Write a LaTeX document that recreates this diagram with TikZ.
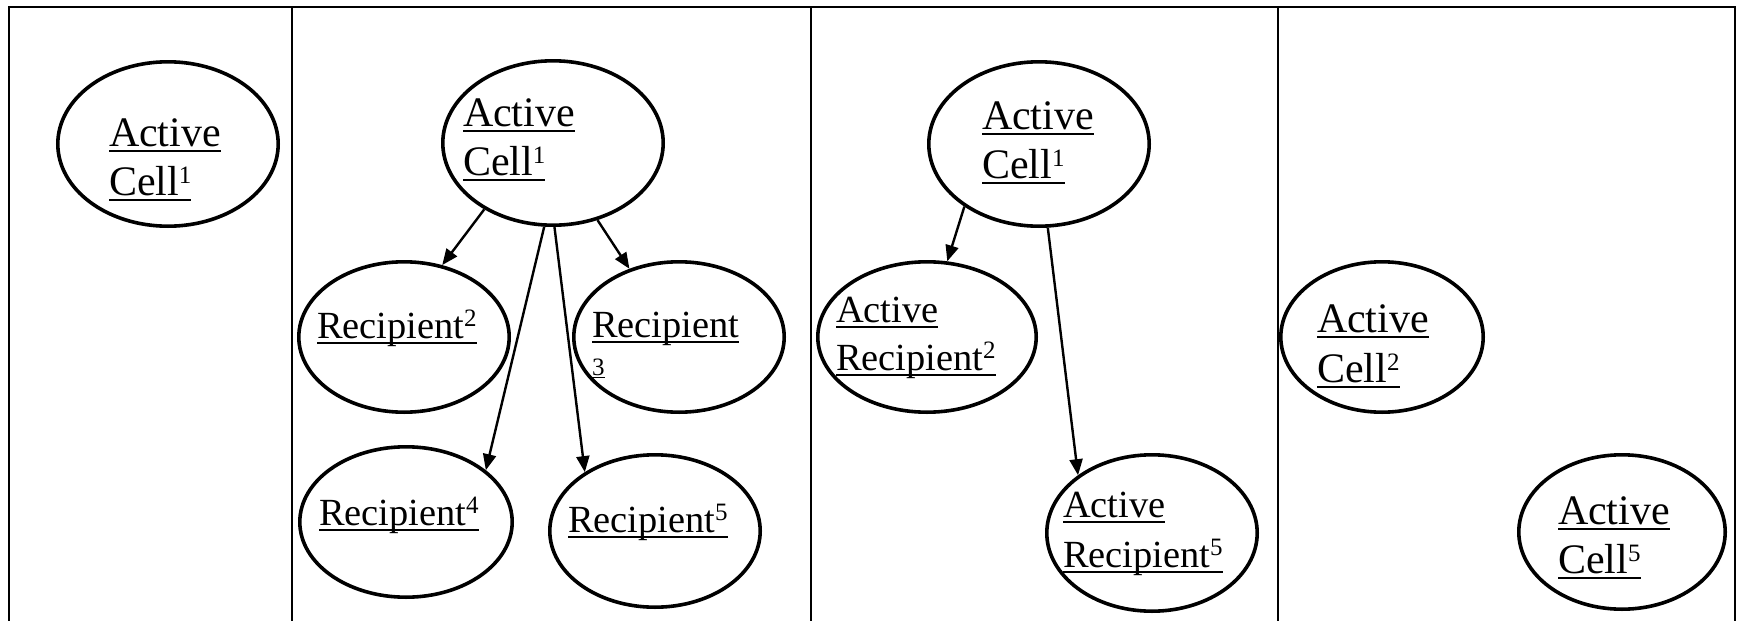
\documentclass[tikz,border=0pt]{standalone}
\usepackage{fontspec}
\setmainfont{Liberation Serif}
\usetikzlibrary{shapes.geometric,arrows.meta}

% underline drawn at a fixed depth below the baseline
\newcommand\ulinat[2]{\setbox0\hbox{#2}\rlap{\rule[#1]{\wd0}{0.75pt}}\box0}
\newcommand\ulin[1]{\ulinat{-2.9pt}{#1}}
% small raised index
\newcommand\sups[1]{\raisebox{5.8pt}{\fontsize{12.5}{13}\selectfont #1}}
\newcommand\bigf{\fontsize{21}{24}\selectfont}
\newcommand\smallf{\fontsize{19.2}{23}\selectfont}

\tikzset{
  frame/.style={line width=1pt},
  ell/.style 2 args={ellipse, draw, line width=1.8pt, inner sep=0pt,
    minimum width={(#1-1.8)*1pt}, minimum height={(#2-1.8)*1pt}},
  lbl/.style={anchor=base west, inner sep=0pt, outer sep=0pt, font=\bigf},
  rlbl/.style={lbl, font=\smallf},
  arr/.style={line width=1.2pt, -{Triangle[length=8pt,width=6.5pt]}}
}

\begin{document}
\begin{tikzpicture}[x=0.5pt,y=-0.5pt]
\useasboundingbox (0,0) rectangle (1741,621);

% table frame, open at the bottom
\draw[frame] (8.7,660) -- (8.7,6.7) -- (1735,6.7) -- (1735,660);
\draw[frame] (292,6.7) -- (292,660);
\draw[frame] (810.5,6.7) -- (810.5,660);
\draw[frame] (1277.5,6.7) -- (1277.5,660);

% column 1
\node[ell={112}{84}] (p1c) at (168,144) {};
\node[lbl] (p1ca) at (109,146) {\ulin{Active}};
\node[lbl] (p1cb) at (109,195) {\ulin{Cell\sups{1}}};

% column 2
\node[ell={112}{84}] (p2c) at (553,143) {};
\node[lbl] (p2ca) at (463,126) {\ulin{Active}};
\node[lbl] (p2cb) at (463,175) {\ulin{Cell\sups{1}}};

\node[ell={107}{77}] (p2r2) at (404,337) {};
\node[rlbl] (p2r2a) at (317,338) {\ulin{Recipient\sups{2}}};

\node[ell={107}{77}] (p2r3) at (679,337) {};
\node[rlbl] (p2r3a) at (592,337) {\ulin{Recipient}};
\node[lbl, font=\fontsize{12.5}{13}\selectfont] (p2r3b) at (592,375) {\ulinat{-1.5pt}{3}};

\node[ell={108}{77}] (p2r4) at (406,522) {};
\node[rlbl] (p2r4a) at (319,525) {\ulin{Recipient\sups{4}}};

\node[ell={107}{78}] (p2r5) at (655,531) {};
\node[rlbl] (p2r5a) at (568,532) {\ulin{Recipient\sups{5}}};

\draw[arr] (p2c.224) -- (p2r2.62);
\draw[arr] (p2c.300) -- (p2r3.126);
\draw[arr] (p2c.264) -- (p2r4.33);
\draw[arr] (p2c.271) -- (p2r5.140);

% column 3
\node[ell={112}{84}] (p3c) at (1039,144) {};
\node[lbl] (p3ca) at (982,129) {\ulin{Active}};
\node[lbl] (p3cb) at (982,178) {\ulin{Cell\sups{1}}};

\node[ell={111}{77}] (p3r2) at (927,337) {};
\node[rlbl] (p3r2a) at (836,322) {\ulin{Active}};
\node[rlbl] (p3r2b) at (836,370) {\ulin{Recipient\sups{2}}};

\node[ell={107}{80}] (p3r5) at (1152,533) {};
\node[rlbl] (p3r5a) at (1063,517) {\ulin{Active}};
\node[rlbl] (p3r5b) at (1063,567) {\ulin{Recipient\sups{5}}};

\draw[arr] (p3c.220) -- (p3r2.75);
\draw[arr] (p3c.276) -- (p3r5.142);

% column 4
\node[ell={103}{77}] (p4c2) at (1382,337) {};
\node[lbl] (p4c2a) at (1317,332) {\ulin{Active}};
\node[lbl] (p4c2b) at (1317,382) {\ulin{Cell\sups{2}}};

\node[ell={105}{79}] (p4c5) at (1622,532) {};
\node[lbl] (p4c5a) at (1558,524) {\ulin{Active}};
\node[lbl] (p4c5b) at (1558,573) {\ulin{Cell\sups{5}}};
\end{tikzpicture}
\end{document}
